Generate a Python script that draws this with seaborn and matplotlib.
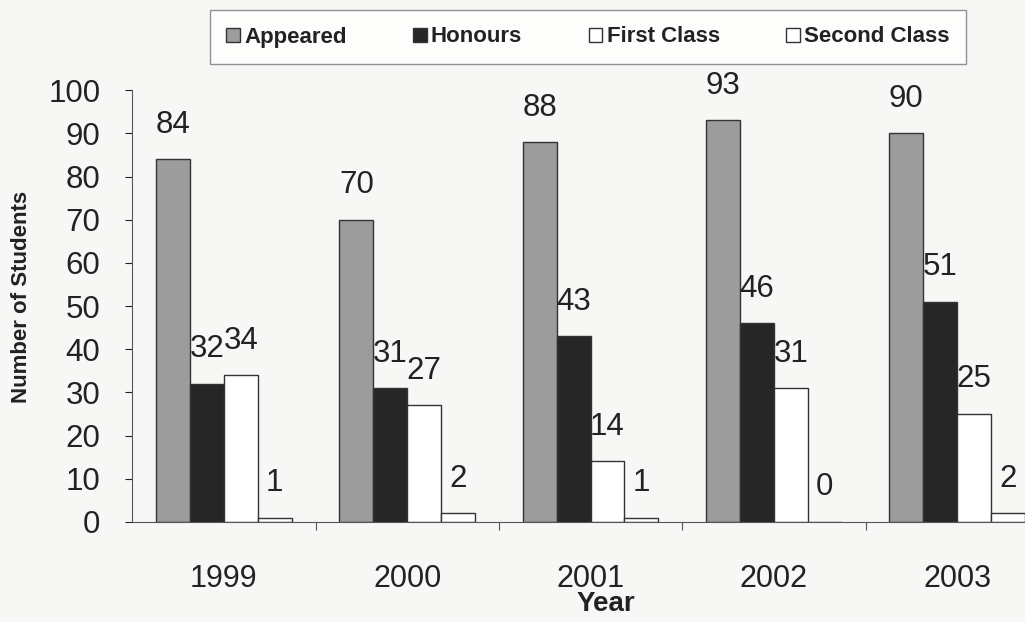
import numpy as np
import pandas as pd
import matplotlib
matplotlib.use("Agg")
import matplotlib.pyplot as plt
import seaborn as sns

years = ["1999", "2000", "2001", "2002", "2003"]
series = ["Appeared", "Honours", "First Class", "Second Class"]
appeared = [84, 70, 88, 93, 90]
honours = [32, 31, 43, 46, 51]
first_class = [34, 27, 14, 31, 25]
second_class = [1, 2, 1, 0, 2]

values = [appeared, honours, first_class, second_class]
df = pd.DataFrame({
    "Year": np.repeat([years], 4, axis=0).ravel(),
    "Series": np.repeat(series, len(years)),
    "Value": np.concatenate(values),
})

sns.set_theme(style="ticks")
plt.rcParams["font.family"] = ["Liberation Sans", "DejaVu Sans"]

bg = "#f7f7f5"
fig = plt.figure(figsize=(10.25, 6.22), dpi=100, facecolor=bg)
ax = fig.add_axes([0.129, 0.161, 0.871, 0.694])
ax.set_facecolor(bg)

palette = {"Appeared": "#9c9c9c", "Honours": "#262626",
           "First Class": "#ffffff", "Second Class": "#ffffff"}
sns.barplot(data=df, x="Year", y="Value", hue="Series", order=years,
            hue_order=series, palette=palette, width=0.74, gap=0,
            edgecolor="#333333", linewidth=1.0, saturation=1, ax=ax,
            legend=True)

for cont in ax.containers:
    ax.bar_label(cont, fmt="%d", padding=14, fontsize=22.5, color="#222222")

ax.set_ylim(0, 100)
ax.set_xlim(-0.5, 4.37)
ax.set_yticks(range(0, 101, 10))
ax.tick_params(axis="y", labelsize=22.5, length=5, width=0.8, pad=18,
               colors="#222222", direction="out")
ax.set_xticks(range(len(years)))
ax.set_xticklabels(years)
ax.tick_params(axis="x", which="major", length=0, labelsize=22, pad=30,
               colors="#222222")
ax.set_xticks(np.arange(0.5, 4.5, 1), minor=True)
ax.tick_params(axis="x", which="minor", length=6, width=0.8,
               direction="out", color="#555555")

for s in ["top", "right"]:
    ax.spines[s].set_visible(False)
ax.spines["left"].set_color("#555555")
ax.spines["bottom"].set_color("#555555")
ax.spines["left"].set_linewidth(0.8)
ax.spines["bottom"].set_linewidth(0.8)

ax.set_xlabel("Year", fontsize=20, fontweight="bold", color="#222222")
ax.xaxis.set_label_coords(0.53, -0.16)
ax.set_ylabel("Number of Students", fontsize=16, fontweight="bold",
              color="#222222")
ax.yaxis.set_label_coords(-0.112, 0.52)

handles, labels = ax.get_legend_handles_labels()
ax.get_legend().remove()
leg = fig.legend(handles, labels, loc="center",
                 bbox_to_anchor=(588 / 1025, 1 - 37 / 622), ncol=4,
                 frameon=True, fancybox=False, edgecolor="#777777",
                 prop={"weight": "bold", "size": 16},
                 handlelength=0.6, handleheight=0.6, handletextpad=0.2,
                 columnspacing=3.0, borderpad=0.75)
leg.get_frame().set_linewidth(1.0)
leg.get_frame().set_facecolor("#ffffff")
for t in leg.get_texts():
    t.set_color("#222222")

fig.savefig("out.png", dpi=100, facecolor=bg)
